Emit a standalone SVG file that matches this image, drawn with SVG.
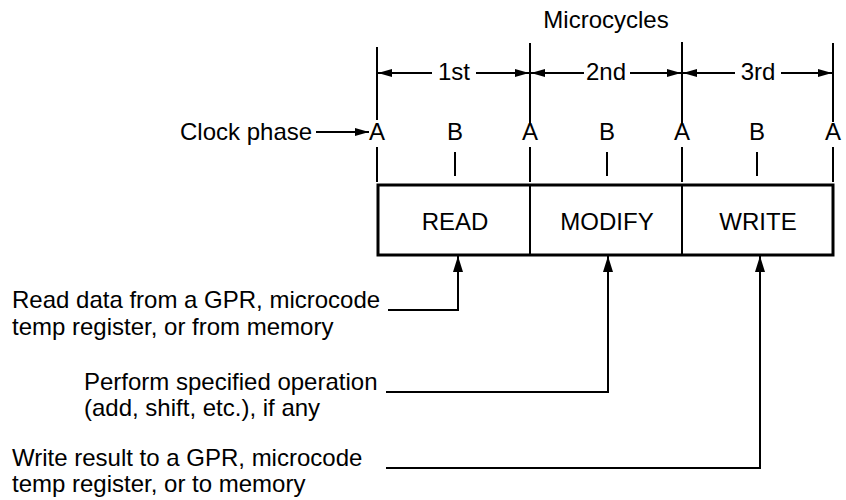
<svg xmlns="http://www.w3.org/2000/svg" width="846" height="500" viewBox="0 0 846 500">
<style>
text{font-family:"Liberation Sans",Arial,sans-serif;font-size:24px;fill:#000}
.c{text-anchor:middle}
.t{stroke:#000;stroke-width:2;fill:none}
.box{stroke:#000;stroke-width:3;fill:#fff}
</style>
<defs>
<marker id="ah" viewBox="0 0 16 10" refX="16" refY="5" markerWidth="16" markerHeight="10" markerUnits="userSpaceOnUse" orient="auto">
<path d="M0,0 L16,5 L0,10 Z" fill="#000"/>
</marker>
<marker id="sh" viewBox="0 0 14 8" refX="14" refY="4" markerWidth="14" markerHeight="8" markerUnits="userSpaceOnUse" orient="auto">
<path d="M0,0 L14,4 L0,8 Z" fill="#000"/>
</marker>
</defs>
<rect width="846" height="500" fill="#fff"/>
<g id="title"><text class="c" x="606" y="28">Microcycles</text></g>
<g id="timing">
<line class="t" x1="377" y1="47" x2="377" y2="120"/>
<line class="t" x1="530" y1="43" x2="530" y2="124"/>
<line class="t" x1="682" y1="42" x2="682" y2="124"/>
<line class="t" x1="833" y1="43" x2="833" y2="122"/>
<text class="c" x="454" y="80">1st</text>
<text class="c" x="606" y="80">2nd</text>
<text class="c" x="758" y="80">3rd</text>
</g>
<g id="phases">
<text x="180" y="140">Clock phase</text>
<text class="c" x="377" y="140">A</text>
<text class="c" x="455" y="140">B</text>
<text class="c" x="530" y="140">A</text>
<text class="c" x="607" y="140">B</text>
<text class="c" x="682" y="140">A</text>
<text class="c" x="757" y="140">B</text>
<text class="c" x="833" y="140">A</text>
<line class="t" x1="377" y1="147" x2="377" y2="182"/>
<line class="t" x1="455" y1="152" x2="455" y2="176"/>
<line class="t" x1="530" y1="147" x2="530" y2="182"/>
<line class="t" x1="607" y1="152" x2="607" y2="176"/>
<line class="t" x1="682" y1="147" x2="682" y2="182"/>
<line class="t" x1="757" y1="152" x2="757" y2="176"/>
<line class="t" x1="833" y1="147" x2="833" y2="182"/>
</g>
<g id="cycles">
<rect class="box" x="378" y="185" width="455" height="70"/>
<line class="t" x1="530" y1="185" x2="530" y2="255"/>
<line class="t" x1="682" y1="185" x2="682" y2="255"/>
<text class="c" x="455" y="230">READ</text>
<text class="c" x="607" y="230">MODIFY</text>
<text class="c" x="758" y="230">WRITE</text>
</g>
<g id="notes">
<text x="12" y="308">Read data from a GPR, microcode</text>
<text x="12" y="335">temp register, or from memory</text>
<text x="84" y="390">Perform specified operation</text>
<text x="84" y="416">(add, shift, etc.), if any</text>
<text x="12" y="466">Write result to a GPR, microcode</text>
<text x="12" y="492">temp register, or to memory</text>
</g>
<g id="connectors" class="t">
<line class="t" x1="432" y1="73" x2="378" y2="73" marker-end="url(#sh)"/>
<line class="t" x1="476" y1="73" x2="529" y2="73" marker-end="url(#sh)"/>
<line class="t" x1="584" y1="73" x2="531" y2="73" marker-end="url(#sh)"/>
<line class="t" x1="630" y1="73" x2="681" y2="73" marker-end="url(#sh)"/>
<line class="t" x1="735" y1="73" x2="683" y2="73" marker-end="url(#sh)"/>
<line class="t" x1="781" y1="73" x2="832" y2="73" marker-end="url(#sh)"/>
<line class="t" x1="316" y1="132" x2="369" y2="132" marker-end="url(#sh)"/>
<polyline class="t" points="388,310 458,310 458,256" marker-end="url(#ah)"/>
<polyline class="t" points="386,392 608,392 608,256" marker-end="url(#ah)"/>
<polyline class="t" points="386,468 760,468 760,256" marker-end="url(#ah)"/>
</g>
</svg>
